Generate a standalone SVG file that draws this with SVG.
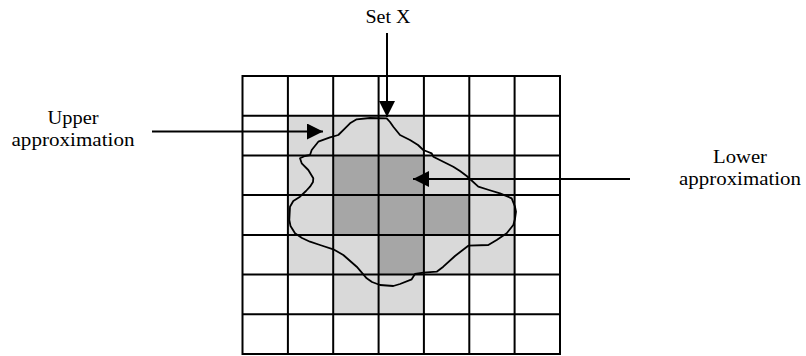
<svg xmlns="http://www.w3.org/2000/svg" width="806" height="356" viewBox="0 0 806 356">
<style>
.lbl{font-family:"Liberation Serif","Times New Roman",serif;font-size:19.5px;fill:#000;text-anchor:middle}
.up{fill:#d9d9d9}
.lo{fill:#a6a6a6}
.grid{stroke:#000;stroke-width:2;fill:none}
.conn{stroke:#000;stroke-width:2;fill:none}
.setx{stroke:#000;stroke-width:1.8;fill:none;stroke-linejoin:round;stroke-linecap:round}
</style>
<defs>
<marker id="ah" markerUnits="userSpaceOnUse" markerWidth="16" markerHeight="16" viewBox="0 0 16 16" refX="16" refY="8" orient="auto">
<path d="M0,0 L16,8 L0,16 Z" fill="#000"/>
</marker>
</defs>
<rect width="806" height="356" fill="#fff"/>
<g id="grid">
<g id="upper-cells">
<rect class="up" x="287.9" y="115.7" width="136" height="39.7"/>
<rect class="up" x="287.9" y="155.4" width="45.4" height="119.2"/>
<rect class="up" x="423.9" y="155.4" width="90.7" height="39.7"/>
<rect class="up" x="469.3" y="195.1" width="45.3" height="79.5"/>
<rect class="up" x="333.2" y="234.9" width="45.4" height="39.7"/>
<rect class="up" x="423.9" y="234.9" width="45.4" height="39.7"/>
<rect class="up" x="333.2" y="274.6" width="90.7" height="39.7"/>
</g>
<g id="lower-cells">
<rect class="lo" x="333.2" y="155.4" width="90.7" height="79.5"/>
<rect class="lo" x="423.9" y="195.1" width="45.4" height="39.8"/>
<rect class="lo" x="378.6" y="234.9" width="45.3" height="39.7"/>
</g>
<path class="grid" d="M242.5,76H560V354H242.5Z M287.9,76V354 M333.2,76V354 M378.6,76V354 M423.9,76V354 M469.3,76V354 M514.6,76V354 M242.5,115.7H560 M242.5,155.4H560 M242.5,195.1H560 M242.5,234.9H560 M242.5,274.6H560 M242.5,314.3H560"/>
</g>
<g id="set-x">
<path class="setx" d="M356.7,119.3 L370,118 L386.7,118.3 L390,122 L393.3,126.7 L400,135 L410,140 L418,145 L423.3,150 L431.7,153.3 L433.3,156.7 L443.3,161.7 L453.3,166.7 L460,171 L466.7,176 L478.3,186.7 L489,190 L500,193.3 L511.7,198.3 L515,206.7 L516,211.7 L515,219 L513.3,225 L506.7,233.3 L496.7,240 L488.3,245 L468.3,245.7 L455,256 L443.3,266.7 L436.7,271.7 L423.3,272.7 L415,274 L411.7,279.3 L400,284 L393.3,286 L380,285 L372,282 L366.7,278.3 L356.7,266.7 L343.3,255 L333.3,249.3 L320,245 L310,241.7 L302,238 L295,233.3 L290.5,226 L289.3,220 L290,206.7 L293.3,201 L300,196.7 L306,191 L310,186.7 L313,182 L313.3,178.3 L308.3,170 L301.7,163.3 L300,158.3 L305,156 L310,155 L311.7,150 L318.3,141.7 L330,137.3 L338.3,135 L345,128.3 L350,123.3 Z"/>
</g>
<g id="labels">
<g id="label-setx"><text class="lbl" x="388" y="23" textLength="45" lengthAdjust="spacingAndGlyphs">Set X</text></g>
<g id="label-upper">
<text class="lbl" x="73" y="124" textLength="51" lengthAdjust="spacingAndGlyphs">Upper</text>
<text class="lbl" x="73" y="146" textLength="123" lengthAdjust="spacingAndGlyphs">approximation</text>
</g>
<g id="label-lower">
<text class="lbl" x="740" y="163" textLength="54" lengthAdjust="spacingAndGlyphs">Lower</text>
<text class="lbl" x="740" y="185" textLength="122" lengthAdjust="spacingAndGlyphs">approximation</text>
</g>
</g>
<g id="connectors">
<line class="conn" x1="387" y1="33" x2="387" y2="117" marker-end="url(#ah)"/>
<line class="conn" x1="152" y1="131.5" x2="323" y2="131.5" marker-end="url(#ah)"/>
<line class="conn" x1="630" y1="179" x2="413" y2="179" marker-end="url(#ah)"/>
</g>
</svg>
